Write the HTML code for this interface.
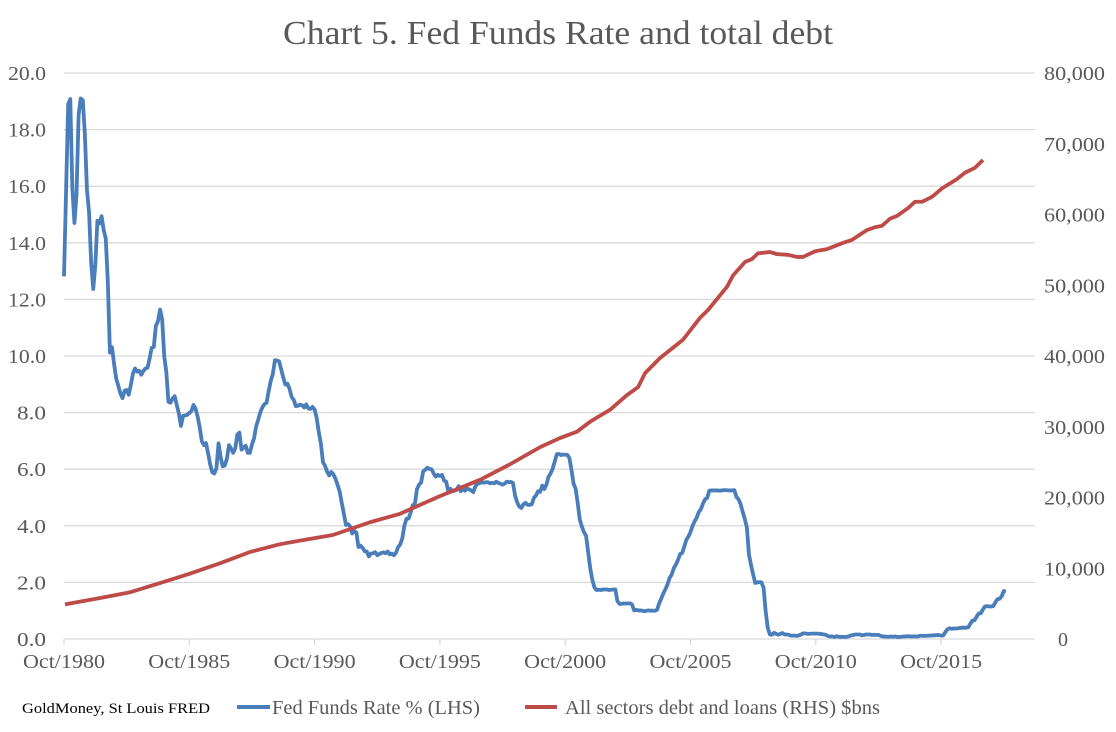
<!DOCTYPE html>
<html><head><meta charset="utf-8">
<style>
html,body{margin:0;padding:0;background:#fff;}
body{width:1116px;height:727px;overflow:hidden;font-family:"Liberation Serif",serif;}
svg text{font-family:"Liberation Serif",serif;}
</style></head>
<body>
<svg id="chart" width="1116" height="727" xmlns="http://www.w3.org/2000/svg">
<text x="558" y="44" text-anchor="middle" font-size="34" fill="#595959" textLength="550" lengthAdjust="spacingAndGlyphs">Chart 5. Fed Funds Rate and total debt</text>
<g id="grid"></g>
<g id="yl"></g>
<g id="yr"></g>
<g id="xa"></g>
<g id="series"></g>
<text x="22" y="713" font-size="15" fill="#000" textLength="188" lengthAdjust="spacingAndGlyphs">GoldMoney, St Louis FRED</text>
<g>
<line x1="237" y1="707" x2="270" y2="707" stroke="#4a7ebb" stroke-width="4"/>
<text x="272" y="714" font-size="20" fill="#595959" textLength="208" lengthAdjust="spacingAndGlyphs">Fed Funds Rate % (LHS)</text>
<line x1="525" y1="707" x2="557" y2="707" stroke="#be4b48" stroke-width="4"/>
<text x="565" y="714" font-size="20" fill="#595959" textLength="315" lengthAdjust="spacingAndGlyphs">All sectors debt and loans (RHS) $bns</text>
</g>
</svg>
<script>
const leftTicks=[0,2,4,6,8,10,12,14,16,18,20];
const rightTicks=[0,10000,20000,30000,40000,50000,60000,70000,80000];
const xTickYears=[1980.75,1985.75,1990.75,1995.75,2000.75,2005.75,2010.75,2015.75];
const xTickLabels=["Oct/1980","Oct/1985","Oct/1990","Oct/1995","Oct/2000","Oct/2005","Oct/2010","Oct/2015"];
const fedStart=1980.75;
const fedRate=[12.81,15.85,18.90,
19.08,15.93,14.70,15.72,18.52,19.10,19.04,17.82,15.87,15.08,13.31,12.37,
13.22,14.78,14.68,14.94,14.45,14.15,12.59,10.12,10.31,9.71,9.20,8.95,
8.68,8.51,8.77,8.80,8.63,8.98,9.37,9.56,9.45,9.48,9.34,9.47,
9.56,9.59,9.91,10.29,10.32,11.06,11.23,11.64,11.30,9.99,9.43,8.38,
8.35,8.50,8.58,8.27,7.97,7.53,7.88,7.90,7.92,7.99,8.05,8.27,
8.14,7.86,7.48,6.99,6.85,6.92,6.56,6.17,5.89,5.85,6.04,6.91,
6.43,6.10,6.13,6.37,6.85,6.73,6.58,6.73,7.22,7.29,6.69,6.77,
6.83,6.58,6.58,6.87,7.09,7.51,7.75,8.01,8.19,8.30,8.35,8.76,
9.12,9.36,9.85,9.84,9.81,9.53,9.24,8.99,9.02,8.84,8.55,8.45,
8.23,8.24,8.28,8.26,8.18,8.29,8.15,8.13,8.20,8.11,7.81,7.31,
6.91,6.25,6.12,5.91,5.78,5.90,5.82,5.66,5.45,5.21,4.81,4.43,
4.03,4.06,3.98,3.73,3.82,3.76,3.25,3.30,3.22,3.10,3.09,2.92,
3.02,3.03,3.07,2.96,3.00,3.04,3.06,3.03,3.09,2.99,3.02,2.96,
3.05,3.25,3.34,3.56,4.01,4.25,4.26,4.47,4.73,4.76,5.29,5.45,
5.53,5.92,5.98,6.05,6.01,6.00,5.85,5.74,5.80,5.76,5.80,5.60,
5.56,5.22,5.31,5.22,5.24,5.27,5.40,5.22,5.30,5.24,5.31,5.29,
5.25,5.19,5.39,5.51,5.50,5.56,5.52,5.54,5.54,5.50,5.52,5.50,
5.56,5.51,5.49,5.45,5.49,5.56,5.54,5.55,5.51,5.07,4.83,4.68,
4.63,4.76,4.81,4.74,4.74,4.76,4.99,5.07,5.22,5.20,5.42,5.30,
5.45,5.73,5.85,6.02,6.27,6.53,6.54,6.50,6.52,6.51,6.51,6.40,
5.98,5.49,5.31,4.80,4.21,3.97,3.77,3.65,3.07,2.49,2.09,1.82,
1.73,1.74,1.73,1.75,1.75,1.75,1.73,1.74,1.75,1.75,1.34,1.24,
1.24,1.26,1.25,1.26,1.26,1.22,1.01,1.03,1.01,1.01,1.00,0.98,
1.00,1.01,1.00,1.00,1.00,1.03,1.26,1.43,1.61,1.76,1.93,2.16,
2.28,2.50,2.63,2.79,3.00,3.04,3.26,3.50,3.62,3.78,4.00,4.16,
4.29,4.49,4.59,4.79,4.94,4.99,5.24,5.25,5.25,5.25,5.25,5.24,
5.25,5.26,5.26,5.25,5.25,5.25,5.26,5.02,4.94,4.76,4.49,4.24,
3.94,2.98,2.61,2.28,1.98,2.00,2.01,2.00,1.81,0.97,0.39,0.16,
0.15,0.22,0.18,0.15,0.18,0.21,0.16,0.16,0.15,0.12,0.12,0.12,
0.11,0.13,0.16,0.20,0.20,0.18,0.18,0.19,0.19,0.19,0.19,0.18,
0.17,0.16,0.14,0.10,0.09,0.09,0.07,0.10,0.08,0.07,0.08,0.07,
0.08,0.10,0.13,0.14,0.16,0.16,0.16,0.13,0.14,0.16,0.16,0.16,
0.14,0.15,0.14,0.15,0.11,0.09,0.09,0.08,0.08,0.09,0.08,0.09,
0.07,0.07,0.08,0.09,0.09,0.10,0.09,0.09,0.09,0.09,0.09,0.12,
0.11,0.11,0.11,0.12,0.12,0.13,0.13,0.14,0.14,0.12,0.12,0.24,
0.34,0.38,0.36,0.37,0.37,0.38,0.39,0.40,0.40,0.40,0.41,0.54,
0.65,0.66,0.79,0.90,0.91,1.04,1.15,1.16,1.15,1.15,1.16,1.30,
1.41,1.42,1.51,1.69,1.70];
const debtYears=[1980.79,1982.19,1983.38,1984.58,1985.74,1986.97,1988.17,1989.37,1990.17,1991.48,1992.96,1994.16,1995.75,1997.35,1998.55,1999.74,2000.54,2001.22,2001.74,2002.54,2003.22,2003.66,2003.94,2004.53,2005.45,2006.13,2006.45,2007.21,2007.45,2007.93,2008.20,2008.44,2008.92,2009.20,2009.64,2010.00,2010.24,2010.72,2011.20,2011.84,2012.19,2012.79,2013.11,2013.39,2013.71,2013.99,2014.43,2014.71,2014.99,2015.39,2015.79,2016.38,2016.70,2017.10,2017.42];
const debtValues=[4900,5800,6600,7900,9200,10700,12300,13400,13900,14700,16500,17700,20200,22500,24700,27100,28400,29300,30700,32400,34500,35600,37600,39700,42300,45400,46500,49800,51400,53300,53700,54500,54700,54400,54300,54000,54000,54800,55100,56000,56400,57800,58200,58400,59400,59800,60900,61800,61800,62500,63700,65000,65900,66600,67700];

const X0=64,PX_PER_YEAR=25.06,YB=639,YT=73,XR=1035;
const xs=t=>X0+(t-1980.75)*PX_PER_YEAR;
const yl=v=>YB-(v/20)*(YB-YT);
const yr=v=>YB-(v/80000)*(YB-YT);
const NS="http://www.w3.org/2000/svg";
function mk(tag,parent){const e=document.createElementNS(NS,tag);document.getElementById(parent).appendChild(e);return e;}

leftTicks.forEach(v=>{
  if(v>0){const g=mk('line','grid');
  
  
  g.setAttribute('x1',X0);g.setAttribute('x2',XR);g.setAttribute('y1',yl(v));g.setAttribute('y2',yl(v));
  g.setAttribute('stroke','#d9d9d9');g.setAttribute('stroke-width','1.3');}
  const t=mk('text','yl');
  
  
  const s=v.toFixed(1);
  t.setAttribute('x',46);t.setAttribute('y',yl(v)+7);t.setAttribute('text-anchor','end');
  t.setAttribute('font-size','20');t.setAttribute('fill','#595959');
  t.setAttribute('textLength',s.length===4?38:29);t.setAttribute('lengthAdjust','spacingAndGlyphs');
  t.textContent=s;
});
rightTicks.forEach(v=>{
  const t=mk('text','yr');
  
  
  const s=v.toLocaleString('en-US');
  t.setAttribute('x',v===0?1058:1044);t.setAttribute('y',yr(v)+7);
  t.setAttribute('font-size','20');t.setAttribute('fill','#595959');
  if(s.length===6){t.setAttribute('textLength',61);t.setAttribute('lengthAdjust','spacingAndGlyphs');}
  t.textContent=s;
});
const ax=mk('line','xa');


ax.setAttribute('x1',X0);ax.setAttribute('x2',XR);ax.setAttribute('y1',YB);ax.setAttribute('y2',YB);
ax.setAttribute('stroke','#d9d9d9');ax.setAttribute('stroke-width','1.3');
xTickYears.forEach((yv,i)=>{
  const l=mk('line','xa');
  
  
  l.setAttribute('x1',xs(yv));l.setAttribute('x2',xs(yv));l.setAttribute('y1',YB);l.setAttribute('y2',YB+6);
  l.setAttribute('stroke','#d9d9d9');l.setAttribute('stroke-width','1.3');
  const t=mk('text','xa');
  
  
  t.setAttribute('x',xs(yv));t.setAttribute('y',668);t.setAttribute('text-anchor','middle');
  t.setAttribute('font-size','20');t.setAttribute('fill','#595959');
  t.setAttribute('textLength',82);t.setAttribute('lengthAdjust','spacingAndGlyphs');
  t.textContent=xTickLabels[i];
});
const bp=fedRate.map((v,i)=>(i?'L':'M')+xs(fedStart+i/12).toFixed(2)+','+yl(v).toFixed(2)).join('');
const blue=mk('path','series');


blue.setAttribute('d',bp);blue.setAttribute('fill','none');blue.setAttribute('stroke','#4a7ebb');
blue.setAttribute('stroke-width','3.8');blue.setAttribute('stroke-linejoin','round');
const rp=debtValues.map((v,i)=>(i?'L':'M')+xs(debtYears[i]).toFixed(2)+','+yr(v).toFixed(2)).join('');
const red=mk('path','series');


red.setAttribute('d',rp);red.setAttribute('fill','none');red.setAttribute('stroke','#be4b48');
red.setAttribute('stroke-width','3.8');red.setAttribute('stroke-linejoin','round');
</script>
</body></html>
